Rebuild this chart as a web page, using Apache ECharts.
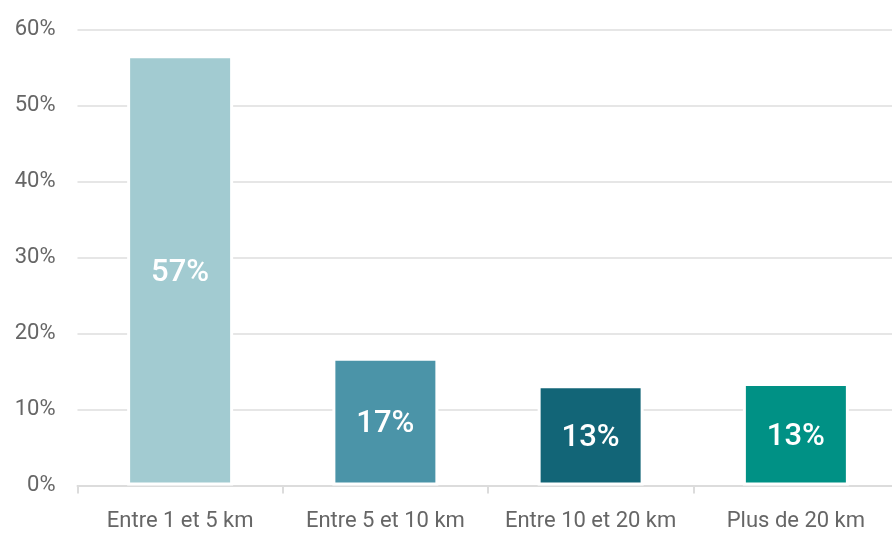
<!DOCTYPE html>
<html>
<head>
<meta charset="utf-8">
<script src="https://cdn.jsdelivr.net/npm/echarts@6/dist/echarts.min.js"></script>
<style>html,body{margin:0;padding:0;background:#fff;overflow:hidden}#c{width:900px;height:535px}</style>
</head>
<body>
<div id="c"></div>
<script>
var categories = ["Entre 1 et 5 km", "Entre 5 et 10 km", "Entre 10 et 20 km", "Plus de 20 km"];
var values = [56.6, 16.8, 13.2, 13.5];
var valueLabels = ["57%", "17%", "13%", "13%"];
var barColors = ["#a2cbd1", "#4b94a8", "#126577", "#009185"];
var yTicks = [0, 10, 20, 30, 40, 50, 60];

var chart = echarts.init(document.getElementById('c'));
chart.setOption({
  animation: false,
  grid: {left: 77.5, top: 29.5, width: 821, height: 456},
  xAxis: {
    type: 'category',
    data: categories,
    axisLine: {show: true, lineStyle: {color: '#dcdcdc', width: 2}},
    axisTick: {show: true, alignWithLabel: false, length: 8, lineStyle: {color: '#dcdcdc', width: 2}},
    axisLabel: {color: '#666', fontFamily: 'Roboto', fontSize: 22, margin: 25, interval: 0}
  },
  yAxis: {
    type: 'value',
    min: yTicks[0],
    max: yTicks[yTicks.length - 1],
    interval: 10,
    axisLine: {show: false},
    axisTick: {show: false},
    axisLabel: {color: '#666', fontFamily: 'Roboto', fontSize: 22, margin: 22, formatter: function (v) { return v + '%'; }},
    splitLine: {lineStyle: {color: '#e6e6e6', width: 2}}
  },
  series: [{
    type: 'bar',
    barWidth: 106,
    data: values.map(function (v, i) {
      return {value: v, itemStyle: {color: barColors[i]}};
    }),
    itemStyle: {borderColor: '#fff', borderWidth: 3},
    label: {
      show: true,
      position: 'inside',
      offset: [0, 3],
      color: '#fff',
      fontFamily: 'Roboto',
      fontWeight: 500,
      fontSize: 31,
      formatter: function (p) { return valueLabels[p.dataIndex]; }
    }
  }]
});
</script>
</body>
</html>
